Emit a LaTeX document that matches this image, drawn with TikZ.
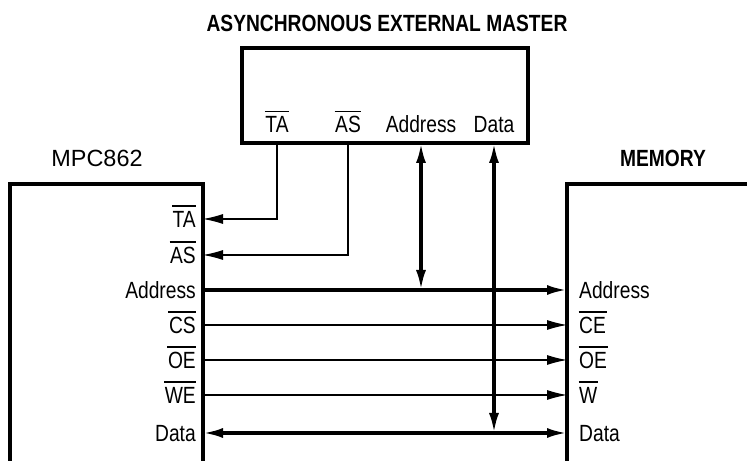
\documentclass[tikz,border=0pt]{standalone}
\usepackage{fontspec}
\setmainfont{Liberation Sans}
\newfontfamily\narrowfont[FakeStretch = 0.82]{Liberation Sans}
\usetikzlibrary{arrows.meta}
\newcommand{\sig}[1]{\setbox0=\hbox{#1}\rlap{\kern-0.5pt\rule[17.6pt]{\dimexpr\wd0+1pt\relax}{1.5pt}}\box0}
\tikzset{
  txt/.style = {inner sep = 0pt, font = \fontsize{20pt}{24pt}\narrowfont},
  hdr/.style = {txt, font = \fontsize{20pt}{24pt}\narrowfont\bfseries},
  box/.style = {line width = 3pt},
  thinline/.style = {line width = 0.9pt},
  bus/.style = {line width = 2.8pt},
  tip/.tip = {Latex[length = 0.6cm, width = 0.3cm]}
}
\begin{document}
\begin{tikzpicture}[x = 0.03cm, y = -0.03cm]
\useasboundingbox (0,0) rectangle (747,461);
% external master
\node[hdr, anchor = base] (title) at (387,32) {ASYNCHRONOUS EXTERNAL MASTER};
\draw[box] (242,48) rectangle (528,143);
\coordinate (masterB) at (0,143);
\node[txt, anchor = base] (mTA) at (277,133) {\sig{TA}};
\node[txt, anchor = base] (mAS) at (348,133) {\sig{AS}};
\node[txt, anchor = base] (mAddr) at (421,133) {Address};
\node[txt, anchor = base] (mData) at (494,133) {Data};
% MPC862
\node[txt, anchor = base, font = \fontsize{20pt}{24pt}\selectfont] (cpu) at (97,167) {MPC862};
\draw[box] (10,461) -- (10,184) -- (203,184) -- (203,461);
\coordinate (cpuR) at (203,0);
\node[txt, anchor = base east] (cTA) at (196,227.5) {\sig{TA}};
\node[txt, anchor = base east] (cAS) at (196,263.5) {\sig{AS}};
\node[txt, anchor = base east] (cAddr) at (196,298.5) {Address};
\node[txt, anchor = base east] (cCS) at (196,333.5) {\sig{CS}};
\node[txt, anchor = base east] (cOE) at (196,368.5) {\sig{OE}};
\node[txt, anchor = base east] (cWE) at (196,403.5) {\sig{WE}};
\node[txt, anchor = base east] (cData) at (196,441.5) {Data};
% memory
\node[hdr, anchor = base] (mem) at (663,167) {MEMORY};
\draw[box] (567,461) -- (567,184) -- (747,184);
\coordinate (memL) at (567,0);
\node[txt, anchor = base west] (rAddr) at (579,298.5) {Address};
\node[txt, anchor = base west] (rCE) at (579,333.5) {\sig{CE}};
\node[txt, anchor = base west] (rOE) at (579,368.5) {\sig{OE}};
\node[txt, anchor = base west] (rW) at (579,403.5) {\sig{W}};
\node[txt, anchor = base west] (rData) at (579,441.5) {Data};
% signals
\coordinate (yTA) at (0,219);
\coordinate (yAS) at (0,255);
\coordinate (yAddr) at (0,290);
\coordinate (yCS) at (0,325);
\coordinate (yOE) at (0,360);
\coordinate (yWE) at (0,395);
\coordinate (yData) at (0,433);
\draw[thinline, -tip] (mTA |- masterB) |- (cpuR |- yTA);
\draw[thinline, -tip] (mAS |- masterB) |- (cpuR |- yAS);
\draw[bus, -tip] (cpuR |- yAddr) -- (memL |- yAddr);
\draw[thinline, -tip] (cpuR |- yCS) -- (memL |- yCS);
\draw[thinline, -tip] (cpuR |- yOE) -- (memL |- yOE);
\draw[thinline, -tip] (cpuR |- yWE) -- (memL |- yWE);
\draw[bus, tip-tip] (cpuR |- yData) -- (memL |- yData);
\draw[bus, tip-tip] (mAddr |- masterB) -- (mAddr |- yAddr);
\draw[bus, tip-tip] (mData |- masterB) -- (mData |- yData);
\end{tikzpicture}
\end{document}
